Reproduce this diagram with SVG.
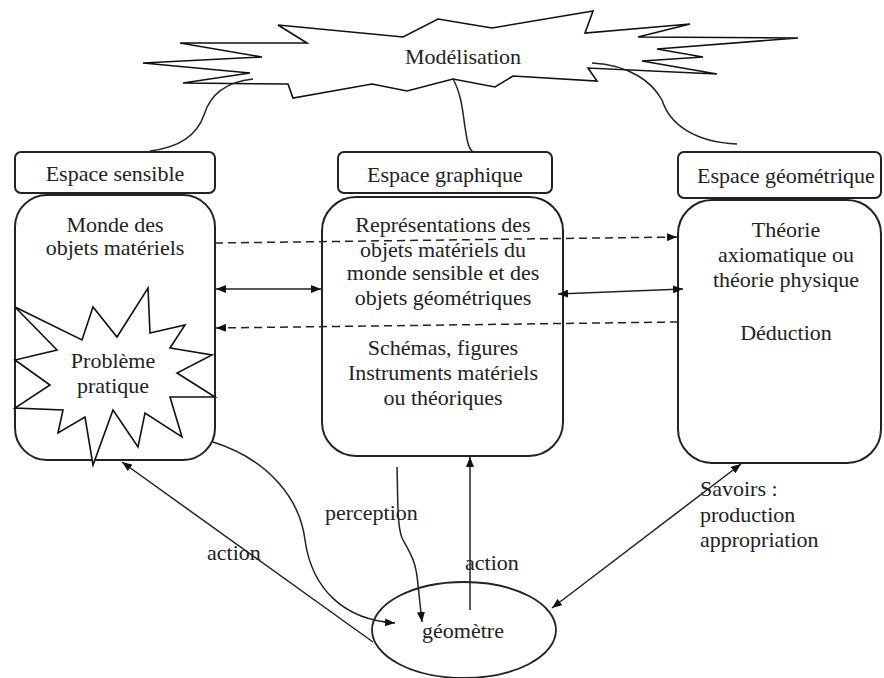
<svg xmlns="http://www.w3.org/2000/svg" width="884" height="678" viewBox="0 0 884 678">
<defs>
<style>
.t{font-family:"Liberation Serif","Times New Roman",serif;font-size:22px;fill:#222;}
.box{fill:#fff;stroke:#222;stroke-width:2;}
.shape{fill:#fff;stroke:#111;stroke-width:1.6;stroke-linejoin:miter;}
.ln{fill:none;stroke:#222;stroke-width:1.5;}
.dash{stroke-dasharray:8 5;}
</style>
<marker id="ah" viewBox="0 0 10 8" refX="10" refY="4" markerWidth="10" markerHeight="8" markerUnits="userSpaceOnUse" orient="auto-start-reverse">
<path d="M0,0 L10,4 L0,8 Z" fill="#111"/>
</marker>
</defs>
<rect width="884" height="678" fill="#fff"/>

<g id="modelisation">
<polygon class="shape" points="278,25 403,37 438,19 492,28 593,11 585,33 690,24 638,37 798,38 657,49 703,57 642,61 717,74 588,68 597,81 513,76 495,87 453,79 407,91 372,84 293,98 288,84 183,83 250,73 143,63 262,57 180,43 307,43"/>
<text class="t" x="405" y="64">Modélisation</text>
</g>

<g id="espace-sensible">
<rect class="box" x="15" y="152" width="200" height="41" rx="6"/>
<text class="t" text-anchor="middle" x="115" y="181">Espace sensible</text>
<rect class="box" x="15" y="195" width="200" height="265" rx="32"/>
<text class="t" text-anchor="middle" x="115" y="232">Monde des</text>
<text class="t" text-anchor="middle" x="115" y="255">objets matériels</text>
</g>

<g id="probleme-pratique">
<polygon class="shape" points="148,288 150,333 185,325 170,348 212,355 177,373 215,397 170,397 182,437 145,413 138,447 113,410 93,465 85,417 58,433 63,410 15,408 50,385 15,360 57,350 15,307 82,340 93,307 117,337"/>
<text class="t" text-anchor="middle" x="113" y="368">Problème</text>
<text class="t" text-anchor="middle" x="113" y="393">pratique</text>
</g>

<g id="espace-graphique">
<rect class="box" x="338" y="152" width="214" height="41" rx="6"/>
<text class="t" text-anchor="middle" x="445" y="182">Espace graphique</text>
<rect class="box" x="322" y="197" width="241" height="259" rx="34"/>
<text class="t" text-anchor="middle" x="443" y="232">Représentations des</text>
<text class="t" text-anchor="middle" x="443" y="257">objets matériels du</text>
<text class="t" text-anchor="middle" x="443" y="280">monde sensible et des</text>
<text class="t" text-anchor="middle" x="443" y="305">objets géométriques</text>
<text class="t" text-anchor="middle" x="443" y="355">Schémas, figures</text>
<text class="t" text-anchor="middle" x="443" y="380">Instruments matériels</text>
<text class="t" text-anchor="middle" x="443" y="405">ou théoriques</text>
</g>

<g id="espace-geometrique">
<rect class="box" x="678" y="152" width="203" height="46" rx="6"/>
<text class="t" text-anchor="middle" x="786" y="183">Espace géométrique</text>
<rect class="box" x="678" y="200" width="203" height="263" rx="34"/>
<text class="t" text-anchor="middle" x="786" y="237">Théorie</text>
<text class="t" text-anchor="middle" x="786" y="262">axiomatique ou</text>
<text class="t" text-anchor="middle" x="786" y="287">théorie physique</text>
<text class="t" text-anchor="middle" x="786" y="340">Déduction</text>
</g>

<g id="geometre">
<ellipse class="box" cx="464" cy="630" rx="92" ry="48" style="stroke-width:1.8"/>
<text class="t" text-anchor="middle" x="463" y="638">géomètre</text>
</g>

<g id="connectors">
<path class="ln" d="M253,79 C225,82 210,95 204,115 C196,138 175,148 150,151"/>
<path class="ln" d="M453,79 C462,95 463,115 465,127 C467,140 468,148 473,152"/>
<path class="ln" d="M592,63 C630,65 652,82 662,100 C670,125 695,142 737,144"/>
<path class="ln dash" d="M215,243 L677,237" marker-end="url(#ah)"/>
<path class="ln dash" d="M678,322 L216,328" marker-end="url(#ah)"/>
<path class="ln" d="M216,289 L321,289" marker-start="url(#ah)" marker-end="url(#ah)"/>
<path class="ln" d="M558,294 L683,289" marker-start="url(#ah)" marker-end="url(#ah)"/>
<path class="ln" d="M213,442 C270,460 300,500 305,540 C312,590 345,620 395,623" marker-end="url(#ah)"/>
<path class="ln" d="M373,642 L122,462" marker-end="url(#ah)"/>
<path class="ln" d="M397,467 C398,500 397,525 402,538 C410,553 416,560 418,585 L422,622" marker-end="url(#ah)"/>
<path class="ln" d="M470,610 L470,457" marker-end="url(#ah)"/>
<path class="ln" d="M552,608 L741,464" marker-start="url(#ah)" marker-end="url(#ah)"/>
<text class="t" x="325" y="520">perception</text>
<text class="t" x="207" y="560">action</text>
<text class="t" x="465" y="570">action</text>
<text class="t" x="700" y="496">Savoirs :</text>
<text class="t" x="700" y="522">production</text>
<text class="t" x="700" y="547">appropriation</text>
</g>
</svg>
